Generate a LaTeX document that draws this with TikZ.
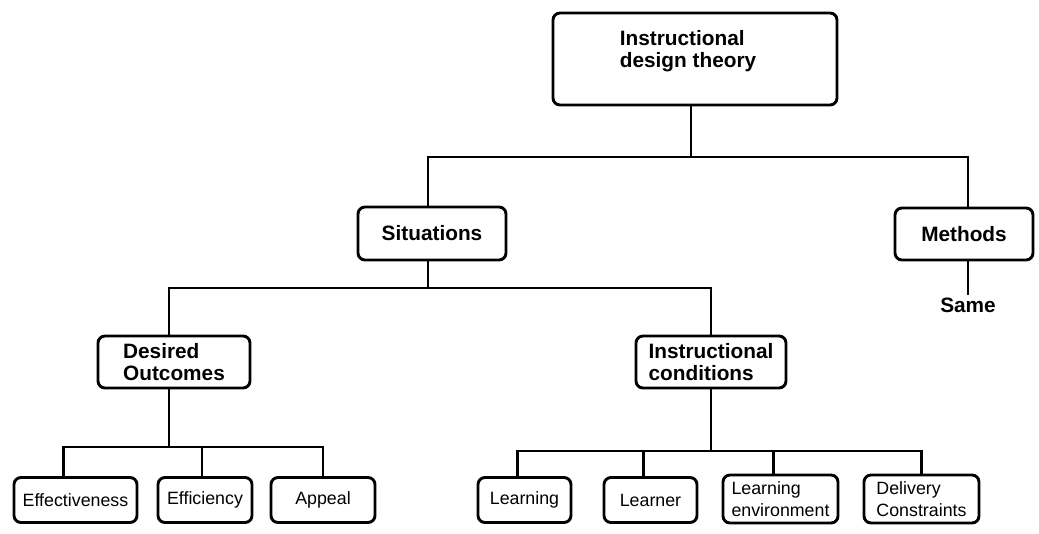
\documentclass[tikz,border=0pt]{standalone}
\usepackage{fontspec}
\setmainfont{Liberation Sans}
\begin{document}
\begin{tikzpicture}[x=1pt,y=-1pt,
  box/.style={draw, line width=2.9pt, rounded corners=7pt, fill=white, align=left, inner sep=0pt},
  bigfont/.style={font=\bfseries\fontsize{20.8}{22}\selectfont},
  smallfont/.style={font=\fontsize{17.8}{22}\selectfont},
  big/.style={box, bigfont},
  small/.style={box, smallfont},
  conn/.style={line width=2.9pt}]
\useasboundingbox (0,0) rectangle (1039,533);
\fill[white] (0,0) rectangle (1039,533);

% upper levels
\node[big, minimum width=284pt, minimum height=92pt] (top) at (695,59) {};
\node[bigfont, align=left, inner sep=0pt] (toplabel) at (688,51) {Instructional\\design theory};
\node[big, minimum width=148pt, minimum height=53pt] (sit) at (432,233.5) {Situations};
\node[big, minimum width=138pt, minimum height=52pt] (meth) at (964,234) {Methods};
\node[bigfont, inner sep=2pt, anchor=base] (same) at (968,312) {Same};
\node[big, minimum width=152pt, minimum height=52pt] (des) at (174,362) {Desired\\Outcomes};
\node[big, minimum width=150pt, minimum height=52pt] (ic) at (711,362) {Instructional\\conditions};

% leaves
\node[small, minimum width=123pt, minimum height=45pt] (eff) at (75.5,500) {Effectiveness};
\node[small, minimum width=94pt, minimum height=45pt] (effi) at (205,500) {Efficiency};
\node[small, minimum width=104pt, minimum height=45pt] (app) at (323,500) {Appeal};
\node[small, minimum width=93pt, minimum height=45pt] (lrn) at (524.5,500) {Learning};
\node[small, minimum width=93pt, minimum height=45pt] (lrnr) at (650.5,500) {Learner};
\node[small, minimum width=115pt, minimum height=48pt] (env) at (780.5,499) {Learning\\environment};
\node[small, minimum width=115pt, minimum height=48pt] (del) at (921.5,499) {Delivery\\Constraints};

% bus heights
\coordinate (busA) at (0,157);
\coordinate (busB) at (0,288);
\coordinate (busC) at (0,447);
\coordinate (busD) at (0,451);

% connectors
\draw[conn] ([xshift=-4pt]top.south) -- ([xshift=-4pt]top.south |- busA);
\draw[conn] ([xshift=-4pt]sit.north) |- ([xshift=4pt]meth.north |- busA) -- ([xshift=4pt]meth.north);
\draw[conn] ([xshift=4pt]meth.south) -- (same.north);

\draw[conn] ([xshift=-4pt]sit.south) -- ([xshift=-4pt]sit.south |- busB);
\draw[conn] ([xshift=-5pt]des.north) |- (ic.north |- busB) -- (ic.north);

\draw[conn] ([xshift=-5pt]des.south) -- ([xshift=-5pt]des.south |- busC);
\draw[conn] ([xshift=-12pt]eff.north) |- (app.north |- busC) -- (app.north);
\draw[conn] ([xshift=-3pt]effi.north) -- ([xshift=-3pt]effi.north |- busC);

\draw[conn] (ic.south) -- (ic.south |- busD);
\draw[conn] ([xshift=-7pt]lrn.north) |- (del.north |- busD) -- (del.north);
\draw[conn] ([xshift=-7pt]lrnr.north) -- ([xshift=-7pt]lrnr.north |- busD);
\draw[conn] ([xshift=-7pt]env.north) -- ([xshift=-7pt]env.north |- busD);
\end{tikzpicture}
\end{document}
